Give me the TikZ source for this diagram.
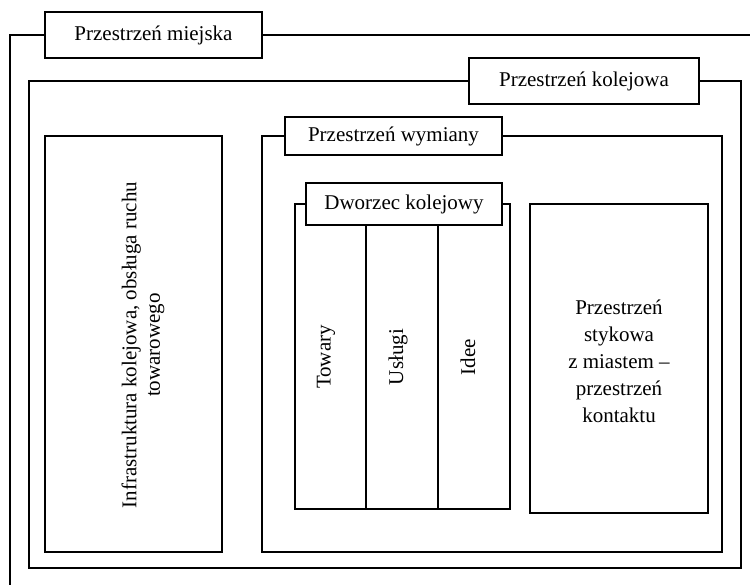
\documentclass[tikz,border=0pt]{standalone}
\usepackage{fontspec}
\setmainfont{Liberation Serif}
\begin{document}
\begin{tikzpicture}[x=1pt,y=-1pt,
  line width=1.3pt,
  lbl/.style={draw,fill=white,inner sep=0pt,font=\fontsize{21}{24}\selectfont},
  txt/.style={inner sep=0pt,font=\fontsize{21}{27}\selectfont,align=center},
  txtb/.style={inner sep=0pt,font=\fontsize{21}{23.5}\selectfont,align=center}]
\useasboundingbox (0,0) rectangle (750,585);
% outer (urban) frame
\node[lbl,minimum width=217pt,minimum height=46pt] (miej) at (153.5,35) {Przestrzeń miejska};
\coordinate (o1) at (10,35);
\coordinate (o2) at (10,585);
\coordinate (o3) at (750,35);
\draw (miej.west) -- (o1) -- (o2);
\draw (miej.east) -- (o3);
% railway frame
\node[lbl,minimum width=230pt,minimum height=46pt] (kol) at (584,81) {Przestrzeń kolejowa};
\coordinate (k1) at (29,81);
\coordinate (k2) at (29,568);
\coordinate (k3) at (741,568);
\coordinate (k4) at (741,81);
\draw (kol.west) -- (k1) -- (k2) -- (k3) -- (k4) -- (kol.east);
% infrastructure box
\node[draw,minimum width=177pt,minimum height=416pt,inner sep=0pt] (inf) at (133.5,344) {};
\node[txtb,rotate=90] (inft) at (143,345) {Infrastruktura kolejowa, obsługa ruchu\\towarowego};
% exchange frame
\node[lbl,minimum width=217pt,minimum height=38pt] (wym) at (393.5,136) {Przestrzeń wymiany};
\coordinate (w1) at (262,136);
\coordinate (w2) at (262,552);
\coordinate (w3) at (722,552);
\coordinate (w4) at (722,136);
\draw (wym.west) -- (w1) -- (w2) -- (w3) -- (w4) -- (wym.east);
% station frame
\node[lbl,minimum width=196pt,minimum height=42pt] (dw) at (404,204) {Dworzec kolejowy};
\coordinate (d1) at (295,204);
\coordinate (d2) at (295,509);
\coordinate (d3) at (510,509);
\coordinate (d4) at (510,204);
\draw (dw.west) -- (d1) -- (d2) -- (d3) -- (d4) -- (dw.east);
\coordinate (s1t) at (366,225);
\coordinate (s1b) at (366,509);
\coordinate (s2t) at (438,225);
\coordinate (s2b) at (438,509);
\draw (s1t) -- (s1b);
\draw (s2t) -- (s2b);
\node[txt,rotate=90] (tow) at (326,357) {Towary};
\node[txt,rotate=90] (usl) at (398,357) {Usługi};
\node[txt,rotate=90] (ide) at (468,357) {Idee};
% contact box
\node[draw,minimum width=178pt,minimum height=309pt,inner sep=0pt] (kon) at (619,358.5) {};
\node[txt] (kont) at (619,361) {Przestrzeń\\stykowa\\z miastem –\\przestrzeń\\kontaktu};
\end{tikzpicture}
\end{document}
